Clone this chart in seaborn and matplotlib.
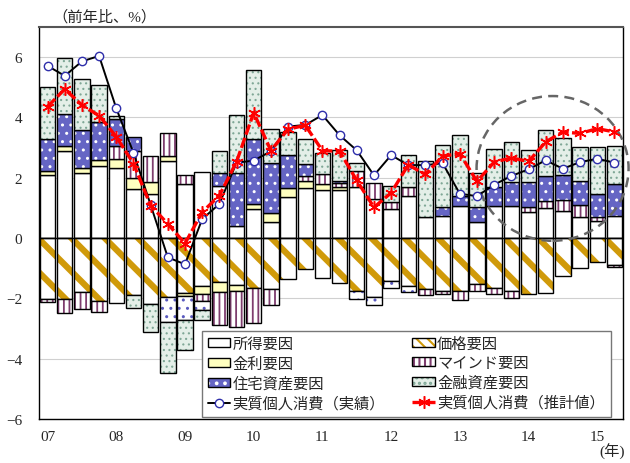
import numpy as np
import seaborn as sns
import matplotlib.pyplot as plt
from matplotlib.patches import Patch, Ellipse
from matplotlib.lines import Line2D
from matplotlib.legend_handler import HandlerTuple

# 2007Q1 - 2015Q2
quarters = ["%02dQ%d" % (y, q) for y in range(7, 16) for q in range(1, 5)][:34]
year_labels = ["07", "08", "09", "10", "11", "12", "13", "14", "15"]

shotoku = [2.08, 2.89, 2.16, 2.38, 2.33, 1.63, 1.47, 2.56, 1.80, 2.19, 1.74, 0.41,
           0.97, 0.52, 1.36, 1.67, 1.61, 1.58, 1.68, 1.30, 0.97, 1.41, 0.69, 0.74,
           1.08, 0.53, 1.07, 1.05, 0.87, 1.00, 0.91, 0.70, 0.57, 0.72]
kakaku = [-2.01, -2.03, -1.79, -2.09, -2.14, -1.89, -2.18, -1.97, -1.81, -1.60, -1.47, -1.57,
          -1.64, -1.70, -1.36, -1.03, -1.33, -1.49, -1.77, -1.94, -1.44, -1.59, -1.70, -1.76,
          -1.77, -1.52, -1.64, -1.74, -1.84, -1.81, -1.26, -1.00, -0.80, -0.88]
kinri = [0.16, 0.16, 0.17, 0.20, 0.30, 0.36, 0.39, 0.15, -0.12, -0.27, -0.33, -0.18,
         0.16, 0.30, 0.30, 0.21, 0.17, 0.10, 0, 0, 0, 0, 0, 0,
         0, 0, 0, 0, 0, 0, 0, 0, 0, 0]
mind = [-0.10, -0.44, -0.55, -0.35, 0.44, 0.90, 0.85, 0.78, 0.28, -0.23, -1.09, -1.20,
        -1.16, -0.53, 0, 0.17, 0.35, 0.15, 0.55, 0.53, 0.22, 0.30, -0.19, -0.08,
        -0.30, -0.24, -0.23, -0.24, 0.17, 0.22, 0.36, 0.40, 0.12, -0.08]
jutaku = [1.06, 1.07, 1.26, 1.26, 0.89, 0.47, 0, -0.82, -0.78, -0.27, 0.43, 1.76,
          2.17, 1.67, 1.09, 0.42, 0, 0.05, -0.26, -0.29, -0.22, -0.19, 0, 0.28,
          0.30, 0.49, 0.63, 0.81, 0.81, 0.85, 0.81, 0.80, 0.77, 1.07]
kinyu = [1.72, 1.86, 1.70, 1.22, 0.08, -0.42, -0.93, -1.67, -1.00, -0.34, 0.71, 1.91,
         2.26, 1.14, 0.78, 0.83, 0.69, 1.05, 0.25, 0, 0.53, 1.03, 1.87, 2.06,
         2.05, 1.15, 1.24, 1.33, 1.06, 1.50, 1.24, 1.12, 1.55, 1.27]

jisseki = [5.71, 5.38, 5.86, 6.04, 4.30, 2.83, 1.10, -0.64, -0.87, 0.63, 1.13, 2.50,
           2.57, 2.88, 3.70, 3.75, 4.08, 3.41, 2.91, 2.08, 2.75, 2.42, 2.42, 2.48,
           1.47, 1.39, 1.77, 2.06, 2.28, 2.58, 2.30, 2.52, 2.63, 2.50]
suikei = [4.36, 4.94, 4.41, 4.06, 3.36, 2.47, 1.08, 0.47, -0.18, 0.86, 1.41, 2.53,
          4.16, 2.90, 3.61, 3.74, 2.90, 2.88, 1.91, 1.02, 1.50, 2.43, 2.11, 2.72,
          2.80, 1.88, 2.52, 2.66, 2.54, 3.19, 3.52, 3.47, 3.63, 3.52]

# name, values, face, hatch, hatch colour, hatch linewidth, legend hatch
components = [
    ("所得要因", shotoku, "white", "", "black", 1.0, ""),
    ("価格要因", kakaku, "white", "\\", "#D09A0A", 4.5, "\\\\\\"),
    ("金利要因", kinri, "#FFFFC0", "", "black", 1.0, ""),
    ("マインド要因", mind, "white", "|||", "#7E3D6E", 1.3, "|||"),
    ("住宅資産要因", jutaku, "#6565C4", "..", "white", 1.0, ".."),
    ("金融資産要因", kinyu, "#E4EFE8", "...", "#7FA796", 0.8, "..."),
]

sns.set_style("white")
plt.rcParams['font.family'] = ['Liberation Serif', 'Noto Sans CJK JP']
plt.rcParams['hatch.linewidth'] = 1.5

fig = plt.figure(figsize=(6.3, 4.64), dpi=100)
ax = fig.add_axes([39 / 630, 1 - 420 / 464, 584 / 630, 392 / 464])


def draw_part(heights, bottoms, face, hatch, hcol, hlw):
    n0 = len(ax.patches)
    sns.barplot(x=quarters, y=heights, bottom=bottoms, color=face, saturation=1,
                width=0.9, errorbar=None, hatch=hatch or None, edgecolor=hcol,
                linewidth=0, ax=ax, zorder=2)
    if hatch:
        for p in ax.patches[n0:]:
            if hasattr(p, "set_hatch_linewidth"):
                p.set_hatch_linewidth(hlw)
    sns.barplot(x=quarters, y=heights, bottom=bottoms, color="black", fill=False,
                saturation=1, width=0.9, errorbar=None,
                linewidth=[1.0 if h != 0 else 0 for h in heights], ax=ax, zorder=2)


pos_base = np.zeros(len(quarters))
neg_base = np.zeros(len(quarters))
legend_patches = {}
for name, vals, face, hatch, hc, hlw, leg_hatch in components:
    v = np.array(vals, dtype=float)
    up = np.where(v > 0, v, 0.0)
    dn = np.where(v < 0, v, 0.0)
    draw_part(up, pos_base.copy(), face, hatch, hc, hlw)
    if name == "住宅資産要因":
        draw_part(dn, neg_base.copy(), "white", hatch, "#5A5ABF", hlw)
    else:
        draw_part(dn, neg_base.copy(), face, hatch, hc, hlw)
    pos_base += up
    neg_base += dn
    fillp = Patch(facecolor=face, hatch=leg_hatch or None, edgecolor=hc, linewidth=0)
    if leg_hatch and hasattr(fillp, "set_hatch_linewidth"):
        fillp.set_hatch_linewidth(min(hlw, 2.0))
    legend_patches[name] = (fillp, Patch(facecolor="none", edgecolor="black", linewidth=1.0))

xpos = np.arange(len(quarters))
sns.lineplot(x=xpos, y=jisseki, color="black", linewidth=1.4, marker="o",
             markersize=6, markerfacecolor="white", markeredgecolor="#2E2EAA",
             markeredgewidth=1.0, ax=ax, zorder=4)
sns.lineplot(x=xpos, y=suikei, color="red", linewidth=2.4, marker=(6, 2, 0),
             markersize=9, markeredgecolor="red", markeredgewidth=1.1, ax=ax, zorder=5)
ax.lines[-1].set_dashes([3.2, 1.0])

ax.add_patch(Ellipse((29.4, 2.31), width=8.85, height=4.8, fill=False,
                     edgecolor="#666666", linestyle=(0, (4, 2.5)), linewidth=1.8,
                     clip_on=False, zorder=3.5))

ax.axhline(0, color="black", linewidth=1.0, zorder=3)
ax.set_xlim(-0.5, 33.5)
ax.set_ylim(-6, 7)
ax.set_yticks([-6, -4, -2, 0, 2, 4, 6])
ax.set_xticks(range(0, 34, 4))
ax.set_xticklabels(year_labels)
ax.grid(axis="y", color="#D0D0D0", linewidth=0.8)
ax.set_axisbelow(True)
ax.tick_params(axis="x", length=0, pad=8, labelsize=11)
ax.tick_params(axis="y", length=0, pad=12, labelsize=11)
ax.set_xlabel("")
ax.set_ylabel("")
for side in ["left", "right", "bottom"]:
    ax.spines[side].set_color("black")
    ax.spines[side].set_linewidth(1.0)
ax.spines["top"].set_color("#555555")
ax.spines["top"].set_linewidth(1.5)

act = Line2D([], [], color="black", linewidth=1.4, marker="o", markersize=6,
             markerfacecolor="white", markeredgecolor="#2E2EAA", markeredgewidth=1.0)
est = Line2D([], [], color="red", linewidth=2.4, linestyle=(0, (3.2, 1.0)),
             marker=(6, 2, 0), markersize=9, markeredgewidth=1.1)
handles = [legend_patches["所得要因"], legend_patches["金利要因"],
           legend_patches["住宅資産要因"], act,
           legend_patches["価格要因"], legend_patches["マインド要因"],
           legend_patches["金融資産要因"], est]
labels = ["所得要因", "金利要因", "住宅資産要因", "実質個人消費（実績）",
          "価格要因", "マインド要因", "金融資産要因", "実質個人消費（推計値）"]
leg = ax.legend(handles, labels, ncol=2, loc="lower left",
                bbox_to_anchor=(0.279, 0.005), fontsize=11, frameon=True,
                fancybox=False, framealpha=1, edgecolor="#777777",
                handlelength=1.45, handleheight=0.5, handletextpad=0.15,
                borderpad=0.4, labelspacing=0.37, columnspacing=1.8,
                borderaxespad=0, handler_map={tuple: HandlerTuple(ndivide=1)})
leg.set_zorder(10)

fig.text(52 / 630, 1 - 17 / 464, "（前年比、%）", fontsize=11, va="center", ha="left")
fig.text(612 / 630, 1 - 452 / 464, "(年)", fontsize=11, va="center", ha="center")

plt.savefig("out.png", dpi=100)
